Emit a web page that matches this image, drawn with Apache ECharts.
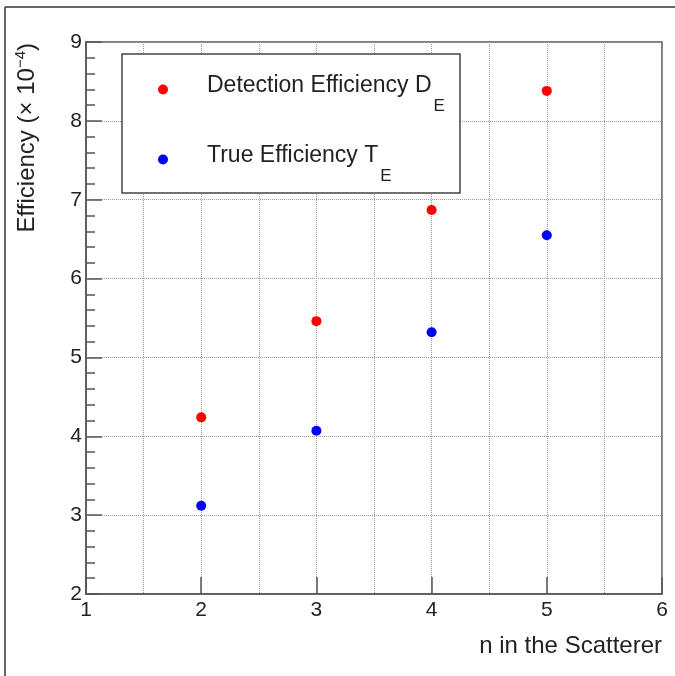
<!DOCTYPE html>
<html lang="en">
<head>
    <meta charset="UTF-8">
    <title>Efficiency vs n</title>
    <script src="https://cdn.jsdelivr.net/npm/echarts@6/dist/echarts.min.js"></script>
    <style>
        html, body { margin: 0; padding: 0; background: #fff; }
        #chart { width: 675px; height: 676px; }
    </style>
</head>
<body>
    <div id="chart"></div>
    <script type="text/javascript">
        // n values and efficiencies (x 10^-4)
        var nValues = [2, 3, 4, 5];
        var detectionEff = [4.24, 5.46, 6.87, 8.38];
        var trueEff = [3.12, 4.07, 5.32, 6.55];
        var seriesNames = ['Detection Efficiency D', 'True Efficiency T'];
        var seriesSubs = ['E', 'E'];

        var font = 'Liberation Sans';
        var ink = '#222';

        var toPairs = function(xs, ys){
            var out = [];
            for (var i = 0; i < xs.length; i++) {
                out.push([xs[i], ys[i]]);
            }
            return out;
        };

        var chart = echarts.init(document.getElementById('chart'));
        chart.setOption({
            animation: false,
            backgroundColor: '#fff',
            grid: {
                left: 86, top: 42, right: 13, bottom: 82,
                show: true,
                borderColor: '#555',
                borderWidth: 1.5,
                backgroundColor: 'transparent'
            },
            legend: {
                orient: 'vertical',
                left: 153,
                top: 69.5,
                itemWidth: 10,
                itemHeight: 10,
                itemGap: 30,
                icon: 'circle',
                data: seriesNames,
                formatter: function(name){
                    var i = seriesNames.indexOf(name);
                    return '{a|' + name + '}{sub|' + seriesSubs[i] + '}';
                },
                textStyle: {
                    padding: [0, 0, 0, 34],
                    rich: {
                        a: { fontFamily: font, fontSize: 23, color: ink, lineHeight: 30, verticalAlign: 'top' },
                        sub: { fontFamily: font, fontSize: 17, color: ink, lineHeight: 16, verticalAlign: 'top', padding: [23, 0, 0, 2] }
                    }
                }
            },
            xAxis: [
                {
                    type: 'value',
                    min: 1, max: 6, interval: 1,
                    axisLine: { show: true, onZero: false, lineStyle: { color: '#555', width: 1.5 } },
                    axisTick: { inside: true, length: 17, lineStyle: { color: '#555', width: 1.5 } },
                    axisLabel: { margin: 6, fontFamily: font, fontSize: 21, color: ink },
                    splitLine: { show: false }
                },
                {
                    type: 'value',
                    min: 1, max: 6, interval: 0.5,
                    position: 'bottom',
                    axisLine: { show: false },
                    axisTick: { show: false },
                    axisLabel: { show: false },
                    splitLine: { show: true, lineStyle: { type: 'dotted', color: '#999', width: 1 } }
                }
            ],
            yAxis: {
                type: 'value',
                min: 2, max: 9, interval: 1,
                axisLine: { show: true, onZero: false, lineStyle: { color: '#555', width: 1.5 } },
                axisTick: { inside: true, length: 16, lineStyle: { color: '#555', width: 1.5 } },
                minorTick: { show: true, splitNumber: 5, length: 9, lineStyle: { color: '#555', width: 1.5 } },
                axisLabel: { margin: 4, fontFamily: font, fontSize: 21, color: ink },
                splitLine: { show: true, lineStyle: { type: 'dotted', color: '#999', width: 1 } }
            },
            series: [
                {
                    name: seriesNames[0],
                    type: 'scatter',
                    xAxisIndex: 0,
                    symbol: 'circle',
                    symbolSize: 10,
                    itemStyle: { color: '#ff0000', opacity: 1 },
                    data: toPairs(nValues, detectionEff),
                    z: 5
                },
                {
                    name: seriesNames[1],
                    type: 'scatter',
                    xAxisIndex: 0,
                    symbol: 'circle',
                    symbolSize: 10,
                    itemStyle: { color: '#0000ff', opacity: 1 },
                    data: toPairs(nValues, trueEff),
                    z: 5
                }
            ],
            graphic: [
                // outer canvas frame
                { type: 'line', shape: { x1: 5, y1: 7, x2: 5, y2: 676 }, style: { stroke: '#333', lineWidth: 1.5 } },
                { type: 'line', shape: { x1: 5, y1: 7, x2: 675, y2: 7 }, style: { stroke: '#333', lineWidth: 1.5 } },
                // legend box
                {
                    type: 'rect', z: 3,
                    shape: { x: 122, y: 54, width: 338, height: 139 },
                    style: { fill: '#fff', stroke: '#444', lineWidth: 1.5 }
                },
                // y title
                {
                    type: 'text', x: 27, y: 43, rotation: Math.PI / 2,
                    style: {
                        text: '{a|Efficiency (× 10}{sup|−4}{a|)}',
                        align: 'right', verticalAlign: 'middle',
                        rich: {
                            a: { fontFamily: font, fontSize: 24, fill: ink, lineHeight: 28, verticalAlign: 'middle' },
                            sup: { fontFamily: font, fontSize: 15, fill: ink, lineHeight: 28, verticalAlign: 'top' }
                        }
                    }
                },
                // x title
                {
                    type: 'text', x: 662, y: 646,
                    style: {
                        text: 'n in the Scatterer',
                        align: 'right', verticalAlign: 'middle',
                        fontFamily: font, fontSize: 24, fill: ink
                    }
                }
            ]
        });
    </script>
</body>
</html>
